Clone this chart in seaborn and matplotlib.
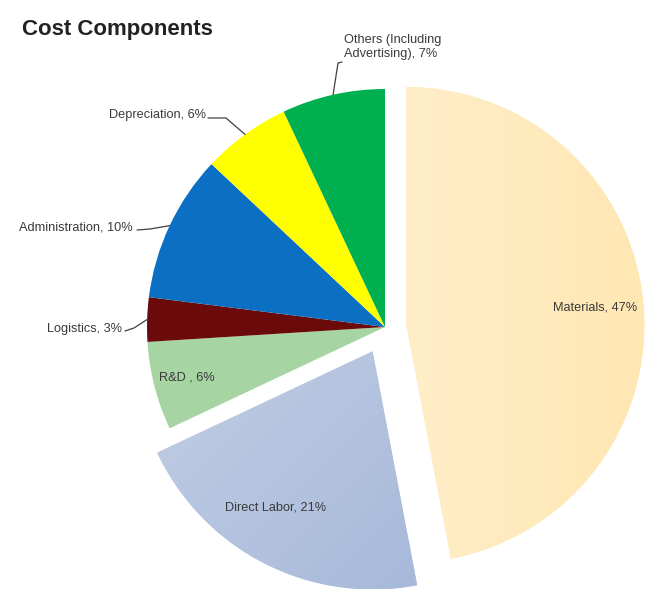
import numpy as np
import matplotlib
matplotlib.use("Agg")
import matplotlib.pyplot as plt
import seaborn as sns
from matplotlib.colors import LinearSegmentedColormap

sns.set_theme(style="white")
plt.rcParams['font.family'] = ['Liberation Sans', 'DejaVu Sans']

categories = ["Materials", "Direct Labor", "R&D ", "Logistics", "Administration",
              "Depreciation", "Others (Including\nAdvertising)"]
values = [47, 21, 6, 3, 10, 6, 7]
colors = ["#FFEBC0", "#B8C6DE", "#A6D4A2", "#6A0A0A", "#0B6FC4", "#FFFF00", "#00B050"]
explode = [0.09, 0.115, 0, 0, 0, 0, 0]

W, H = 651, 589
cx, cy, R = 385, 327, 238
fig = plt.figure(figsize=(W / 100, H / 100), dpi=100)
ax = fig.add_axes([0, 0, 1, 1])

wedges, _ = ax.pie(values, colors=colors, explode=explode, startangle=90,
                   counterclock=False, radius=1, center=(0, 0),
                   wedgeprops=dict(linewidth=0))

# gradients for the two exploded slices
grads = {0: ["#FFF6E4", "#FFE6AE"], 1: ["#D4DCEC", "#96ACD2"]}
for i, (c1, c2) in grads.items():
    w = wedges[i]
    cmap = LinearSegmentedColormap.from_list("g%d" % i, [c1, c2])
    yy, xx = np.mgrid[0:1:200j, 0:1:200j]
    if i == 0:
        z = xx
    else:
        z = (xx + (1 - yy)) / 2
    im = ax.imshow(z, cmap=cmap, extent=(-1.2, 1.3, -1.3, 1.2), origin='lower',
                   zorder=w.get_zorder() + 0.1, aspect='auto')
    im.set_clip_path(w)

ax.set_xlim(-cx / R, (W - cx) / R)
ax.set_ylim((cy - H) / R, cy / R)
ax.set_aspect('equal')
ax.axis('off')

def px(x, y):
    return ((x - cx) / R, (cy - y) / R)

tc = '#3a3a3a'
fs = 9.2

# inside labels (pixel anchor, centered)
inside = {0: (595, 307), 1: (276, 508), 2: (187, 378)}
for i, p in inside.items():
    tx, ty = px(*p)
    ax.text(tx, ty, f"{categories[i]}, {values[i]}%", ha='center', va='center',
            fontsize=fs, color=tc, zorder=10)

# outside labels with leader lines
out = {
    3: dict(text=(122, 329), ha='right', path=[(125, 331), (134, 328)]),
    4: dict(text=(133, 228), ha='right', path=[(137, 230), (150, 229)]),
    5: dict(text=(206, 115), ha='right', path=[(208, 118), (226, 118)]),
    6: dict(text=(393, 47), ha='center', path=[(342, 62), (338, 63)]),
}
for i, o in out.items():
    w = wedges[i]
    mid = np.deg2rad((w.theta1 + w.theta2) / 2)
    tx, ty = px(*o['text'])
    ax.text(tx, ty, f"{categories[i]}, {values[i]}%", ha=o['ha'], va='center',
            fontsize=fs, color=tc, zorder=10, linespacing=1.25,
            multialignment='left')
    pts = [px(*p) for p in o['path']] + [(np.cos(mid), np.sin(mid))]
    ax.plot([p[0] for p in pts], [p[1] for p in pts], color='#404040', lw=0.9,
            zorder=9)

tx, ty = px(22, 30)
ax.text(tx, ty, "Cost Components", fontsize=16, fontweight='bold', color='#222222',
        ha='left', va='center')

fig.savefig("out.png", dpi=100)
